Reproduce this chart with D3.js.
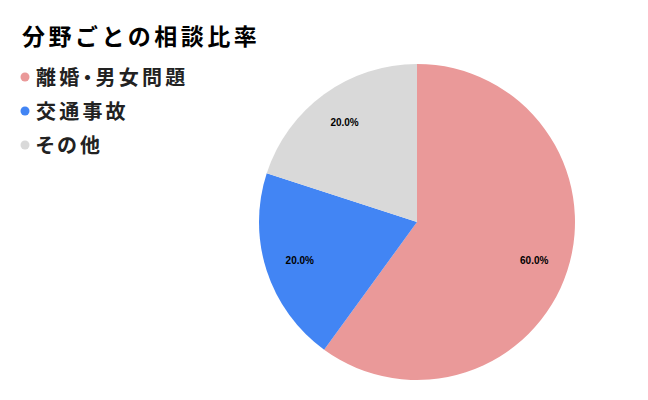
<!DOCTYPE html>
<html>
<head>
<meta charset="utf-8">
<script src="https://cdn.jsdelivr.net/npm/d3@7"></script>
<style>
body{margin:0;background:#fff;}
svg{display:block;}
</style>
</head>
<body>
<div id="chart"></div>
<script>
var categories = ["離婚・男女問題", "交通事故", "その他"]
var values = [60, 20, 20]
var colors = ["#ea9999", "#4285f4", "#d9d9d9"]
var title = "分野ごとの相談比率"

var w = 648
var h = 400
var cx = 417
var cy = 222
var radius = 158
var jp = "'Noto Sans CJK JP','Noto Sans',sans-serif"

var svg = d3.select("#chart").append("svg").attr("width",w).attr("height",h)

svg.append("text")
    .text(title)
    .attr("x",22).attr("y",45)
    .attr("font-family",jp).attr("font-weight","bold")
    .attr("font-size",23).attr("letter-spacing",3.5)
    .attr("fill","#000")

//legend
var legend = svg.selectAll(".legend")
    .data(categories)
    .enter()
    .append("g")
    .attr("class","legend")
    .attr("transform",function(d,i){return "translate(25,"+(77+i*34)+")"})
legend.append("circle").attr("r",4.5).attr("fill",function(d,i){return colors[i]})
legend.append("text")
    .text(function(d){return d})
    .attr("x",11).attr("y",7.5)
    .attr("font-family",jp).attr("font-weight","bold")
    .attr("font-size",20).attr("letter-spacing",3.2)
    .style("font-feature-settings","'palt'")
    .attr("fill","#222")

//pie
var pie = d3.pie().sort(null).value(function(d){return d})
var arc = d3.arc().innerRadius(0).outerRadius(radius)
var labelArc = d3.arc().innerRadius(radius*0.78).outerRadius(radius*0.78)
var total = d3.sum(values)

var g = svg.append("g").attr("transform","translate("+cx+","+cy+")")
g.selectAll("path")
    .data(pie(values))
    .enter()
    .append("path")
    .attr("d",arc)
    .attr("fill",function(d,i){return colors[i]})

g.selectAll(".lbl")
    .data(pie(values))
    .enter()
    .append("text")
    .attr("class","lbl")
    .attr("transform",function(d){return "translate("+labelArc.centroid(d)+")"})
    .attr("text-anchor","middle")
    .attr("dy","0.35em")
    .attr("font-family","'Liberation Sans',Arial,sans-serif")
    .attr("font-weight","bold")
    .attr("font-size",10)
    .attr("fill","#000")
    .text(function(d){return (d.value/total*100).toFixed(1)+"%"})
</script>
</body>
</html>
